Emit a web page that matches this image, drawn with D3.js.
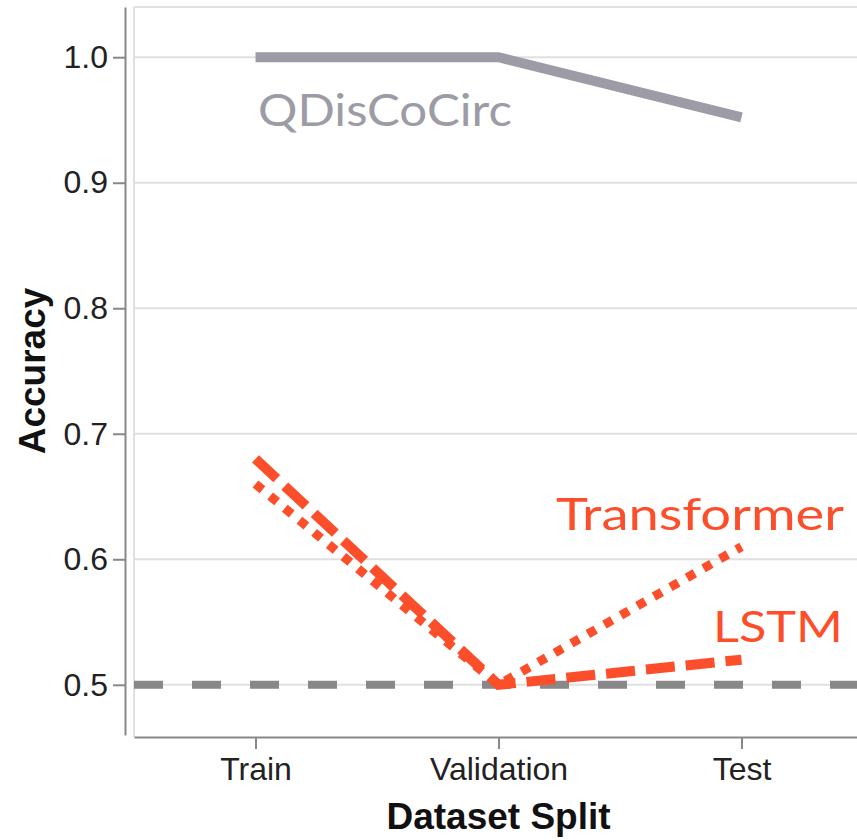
<!DOCTYPE html>
<html>
<head>
<meta charset="utf-8">
<script src="https://cdn.jsdelivr.net/npm/d3@7"></script>
<style>
  html, body { margin: 0; padding: 0; background: #fff; }
  svg { display: block; }
</style>
</head>
<body>
<svg id="chart" width="857" height="840"></svg>
<script>
// Dataset splits along the x axis
const splits = ["Train", "Validation", "Test"];

// Accuracy per split for each model
const qdiscocirc = [1.0, 1.0, 0.952];
const lstm = [0.68, 0.5, 0.52];
const transformer = [0.66, 0.5, 0.61];

// Chance-level reference
const baseline = 0.5;

// Y axis ticks
const yTicks = [0.5, 0.6, 0.7, 0.8, 0.9, 1.0];

const svg = d3.select("#chart");

const plotLeft = 134, plotTop = 7, plotBottom = 737;

const x = d3.scalePoint().domain(splits).range([plotLeft, 863]).padding(0.5);
const y = d3.scaleLinear().domain([0.46, 1.04]).range([735, plotTop]);

const red = "#fc4e2a";
const gray = "#9c9ba6";
const gridColor = "#e0e0e0";

// Plot frame and horizontal grid
const grid = svg.append("g");
grid.selectAll("line.h").data(yTicks).join("line")
  .attr("x1", plotLeft).attr("x2", 857)
  .attr("y1", d => y(d)).attr("y2", d => y(d))
  .attr("stroke", gridColor).attr("stroke-width", 2);
grid.append("line")
  .attr("x1", plotLeft).attr("x2", 857).attr("y1", plotTop).attr("y2", plotTop)
  .attr("stroke", gridColor).attr("stroke-width", 2);
grid.append("line")
  .attr("x1", plotLeft).attr("x2", plotLeft).attr("y1", plotTop).attr("y2", plotBottom)
  .attr("stroke", gridColor).attr("stroke-width", 2);

// Y axis, offset left of the plot area
const yAxis = svg.append("g")
  .attr("transform", "translate(125,0)")
  .call(d3.axisLeft(y).tickValues(yTicks).tickFormat(d3.format(".1f")).tickSize(12).tickSizeOuter(0).tickPadding(5));
yAxis.select(".domain").attr("stroke", "#888").attr("stroke-width", 2);
yAxis.selectAll(".tick line").attr("stroke", "#888").attr("stroke-width", 2);
yAxis.selectAll(".tick text")
  .attr("fill", "#222")
  .style("font-family", "'Liberation Sans', Arial, sans-serif")
  .style("font-size", "32px");

// X axis at the bottom of the plot area
const xAxis = svg.append("g")
  .attr("transform", `translate(0,${plotBottom})`)
  .call(d3.axisBottom(x).tickSize(12).tickSizeOuter(0).tickPadding(8));
xAxis.select(".domain").attr("stroke", "#888").attr("stroke-width", 2);
xAxis.selectAll(".tick line").attr("stroke", "#888").attr("stroke-width", 2);
xAxis.selectAll(".tick text")
  .attr("fill", "#222")
  .style("font-family", "'Liberation Sans', Arial, sans-serif")
  .style("font-size", "32px");

// Axis titles
svg.append("text")
  .attr("x", x("Validation")).attr("y", 829)
  .attr("text-anchor", "middle")
  .style("font-family", "'Liberation Sans', Arial, sans-serif")
  .style("font-size", "37px").style("font-weight", "bold")
  .attr("fill", "#111")
  .text("Dataset Split");
svg.append("text")
  .attr("transform", `translate(45,${y(0.75)}) rotate(-90)`)
  .attr("text-anchor", "middle")
  .style("font-family", "'Liberation Sans', Arial, sans-serif")
  .style("font-size", "37px").style("font-weight", "bold")
  .attr("fill", "#111")
  .text("Accuracy");

const line = d3.line().x((d, i) => x(splits[i])).y(d => y(d));

// Chance baseline across the full width
svg.append("line")
  .attr("x1", plotLeft).attr("x2", 857)
  .attr("y1", y(baseline)).attr("y2", y(baseline))
  .attr("stroke", "#888").attr("stroke-width", 8)
  .attr("stroke-dasharray", "29,29");

// Model lines
svg.append("path").datum(qdiscocirc)
  .attr("d", line).attr("fill", "none")
  .attr("stroke", gray).attr("stroke-width", 10)
  .attr("stroke-linejoin", "miter");

svg.append("path").datum(lstm)
  .attr("d", line).attr("fill", "none")
  .attr("stroke", red).attr("stroke-width", 10)
  .attr("stroke-dasharray", "29,11");

svg.append("path").datum(transformer)
  .attr("d", line).attr("fill", "none")
  .attr("stroke", red).attr("stroke-width", 9)
  .attr("stroke-dasharray", "9,10");

// Series labels
const labelFont = "'Lato', 'Noto Sans', sans-serif";
svg.append("text")
  .attr("x", 258).attr("y", 126)
  .attr("textLength", 254).attr("lengthAdjust", "spacingAndGlyphs")
  .style("font-family", labelFont).style("font-weight", "400").style("font-size", "44px")
  .attr("fill", gray)
  .text("QDisCoCirc");
svg.append("text")
  .attr("x", 556).attr("y", 530)
  .attr("textLength", 288).attr("lengthAdjust", "spacingAndGlyphs")
  .style("font-family", labelFont).style("font-weight", "400").style("font-size", "44px")
  .attr("fill", red)
  .text("Transformer");
svg.append("text")
  .attr("x", 713).attr("y", 642)
  .attr("textLength", 130).attr("lengthAdjust", "spacingAndGlyphs")
  .style("font-family", labelFont).style("font-weight", "400").style("font-size", "42px")
  .attr("fill", red)
  .text("LSTM");
</script>
</body>
</html>
